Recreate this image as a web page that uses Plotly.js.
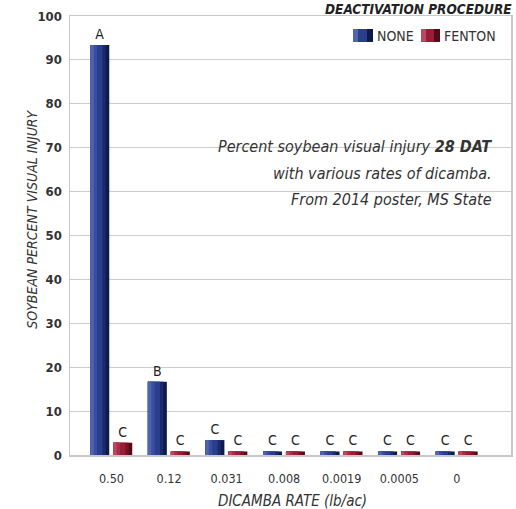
<!DOCTYPE html>
<html>
<head>
<meta charset="utf-8">
<script src="https://cdn.plot.ly/plotly-3.0.1.min.js"></script>
<style>
html,body{margin:0;padding:0;background:#fff;}
#chart{width:516px;height:509px;}
</style>
</head>
<body>
<div id="chart"></div>
<script>
var categories = ["0.50", "0.12", "0.031", "0.008", "0.0019", "0.0005", "0"];
var noneValues = [93.4, 16.7, 3.4, 0.8, 0.8, 0.8, 0.8];
var fentonValues = [2.8, 0.8, 0.8, 0.8, 0.8, 0.8, 0.8];
var noneLetters = ["A", "B", "C", "C", "C", "C", "C"];
var fentonLetters = ["C", "C", "C", "C", "C", "C", "C"];
var yTicks = [0, 10, 20, 30, 40, 50, 60, 70, 80, 90, 100];

var FONT = '"Liberation Sans Narrow", "DejaVu Sans Condensed", "Arial Narrow", sans-serif';
var TXT = '#333333';

// bar geometry in category units
var BW = 0.330;
var OFF = {NONE: -0.368, FENTON: 0.031};

// nested shading layers (from the left edge) to mimic the gradient: [width fraction, colour]
var SHADES = {
  NONE: [[1, '#0e1a4c'], [0.82, '#1a2a6c'], [0.64, '#2a3e8e'], [0.36, '#394e9e'], [0.18, '#5165ad']],
  FENTON: [[1, '#560a19'], [0.82, '#7a1226'], [0.64, '#9a1d38'], [0.36, '#a82f49'], [0.18, '#bb4862']]
};

function series(name, values, letters) {
  var out = [];
  SHADES[name].forEach(function (s, k) {
    var tr = {
      type: 'bar', name: name, x: categories, y: values,
      offset: OFF[name], width: s[0] * BW,
      marker: {color: s[1], line: {width: 0}},
      hoverinfo: 'x+y', showlegend: false
    };
    if (k === 0) {
      tr.text = letters; tr.textposition = 'outside'; tr.cliponaxis = false;
      tr.textfont = {family: FONT, size: 14, color: '#222'};
    }
    out.push(tr);
  });
  return out;
}

var traces = series('NONE', noneValues, noneLetters).concat(series('FENTON', fentonValues, fentonLetters));

var px = function (x) { return (x - 70) / 441; };
var py = function (y) { return (455.5 - y) / 439.5; };

var layout = {
  width: 516, height: 509,
  margin: {l: 70, r: 5, t: 16, b: 53.5},
  paper_bgcolor: '#ffffff', plot_bgcolor: '#ffffff',
  showlegend: false,
  barmode: 'overlay',
  font: {family: FONT, color: TXT},
  xaxis: {
    type: 'category', range: [-0.72, 6.94],
    showgrid: false, zeroline: false,
    showline: true, linecolor: '#c8c8c8', linewidth: 1.5, mirror: true,
    ticks: '', ticklabelstandoff: 11,
    tickfont: {family: FONT, size: 12.5, color: TXT},
    title: {text: ''}
  },
  yaxis: {
    range: [0, 100], tickvals: yTicks, ticktext: yTicks.map(String),
    showgrid: true, gridcolor: '#cccccc', gridwidth: 1,
    zeroline: false,
    showline: true, linecolor: '#c8c8c8', linewidth: 1.5, mirror: true,
    ticks: '', ticklabelstandoff: 4,
    tickfont: {family: FONT, size: 13, color: TXT, weight: 'bold'},
    title: {text: ''}
  },
  shapes: [
    {type: 'rect', xref: 'paper', yref: 'paper', x0: px(353), x1: px(373), y0: py(42), y1: py(29),
     fillcolor: '#0e1a4c', line: {width: 0}},
    {type: 'rect', xref: 'paper', yref: 'paper', x0: px(353), x1: px(367), y0: py(42), y1: py(29),
     fillcolor: '#2a3e8e', line: {width: 0}},
    {type: 'rect', xref: 'paper', yref: 'paper', x0: px(353), x1: px(358), y0: py(42), y1: py(29),
     fillcolor: '#5165ad', line: {width: 0}},
    {type: 'rect', xref: 'paper', yref: 'paper', x0: px(421), x1: px(440), y0: py(42), y1: py(29),
     fillcolor: '#560a19', line: {width: 0}},
    {type: 'rect', xref: 'paper', yref: 'paper', x0: px(421), x1: px(434), y0: py(42), y1: py(29),
     fillcolor: '#9a1d38', line: {width: 0}},
    {type: 'rect', xref: 'paper', yref: 'paper', x0: px(421), x1: px(426), y0: py(42), y1: py(29),
     fillcolor: '#bb4862', line: {width: 0}}
  ],
  annotations: [
    {xref: 'paper', yref: 'paper', x: px(375), y: py(36), xanchor: 'left', yanchor: 'middle',
     text: 'NONE', showarrow: false, font: {family: FONT, size: 14, color: TXT}},
    {xref: 'paper', yref: 'paper', x: px(442), y: py(36), xanchor: 'left', yanchor: 'middle',
     text: 'FENTON', showarrow: false, font: {family: FONT, size: 14, color: TXT}},
    {xref: 'paper', yref: 'paper', x: px(494), y: py(147), xanchor: 'right', yanchor: 'middle',
     text: '<i>Percent soybean visual injury <b>28 DAT</b></i>', showarrow: false,
     font: {family: FONT, size: 16, color: TXT}},
    {xref: 'paper', yref: 'paper', x: px(494), y: py(174), xanchor: 'right', yanchor: 'middle',
     text: '<i>with various rates of dicamba.</i>', showarrow: false,
     font: {family: FONT, size: 16, color: TXT}},
    {xref: 'paper', yref: 'paper', x: px(494), y: py(200), xanchor: 'right', yanchor: 'middle',
     text: '<i>From 2014 poster, MS State</i>', showarrow: false,
     font: {family: FONT, size: 16, color: TXT}},
    {xref: 'paper', yref: 'paper', x: px(514), y: py(-1), xanchor: 'right', yanchor: 'top',
     text: '<b><i>DEACTIVATION PROCEDURE</i></b>', showarrow: false,
     font: {family: FONT, size: 13.5, color: '#222'}},
    {xref: 'paper', yref: 'paper', x: px(292), y: py(502), xanchor: 'center', yanchor: 'middle',
     text: '<i>DICAMBA RATE (lb/ac)</i>', showarrow: false,
     font: {family: FONT, size: 15, color: TXT}},
    {xref: 'paper', yref: 'paper', x: px(32), y: py(220), xanchor: 'center', yanchor: 'middle',
     text: '<i>SOYBEAN PERCENT VISUAL INJURY</i>', showarrow: false, textangle: -90,
     font: {family: FONT, size: 14, color: TXT}}
  ]
};

Plotly.newPlot('chart', traces, layout, {displayModeBar: false, staticPlot: true});
</script>
</body>
</html>
